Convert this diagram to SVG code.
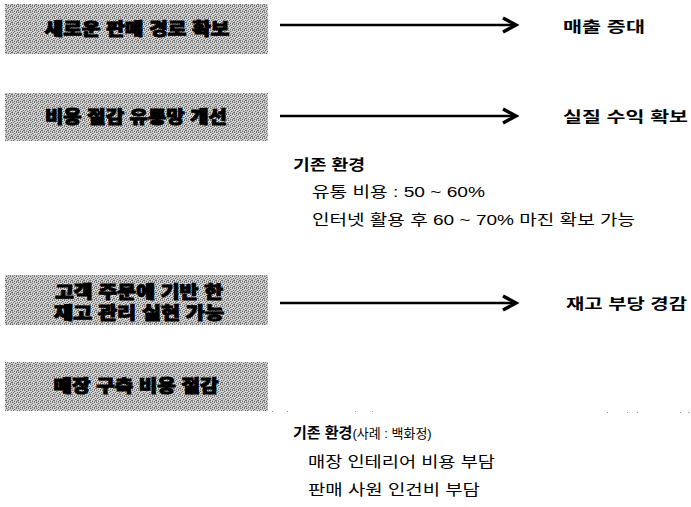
<svg xmlns="http://www.w3.org/2000/svg" width="691" height="507" viewBox="0 0 691 507">
<style>
text{font-family:"Liberation Sans","Noto Sans CJK KR",sans-serif;fill:#000}
.bx{fill:url(#dith)}
.bt{font-size:17px;font-weight:900;text-anchor:middle;stroke:#000;stroke-width:0.9}
.rl{font-size:15px;font-weight:bold}
.hd{font-size:15px;font-weight:bold}
.nt{font-size:15px}
.sm{font-size:13px;font-weight:normal}
.ar{stroke:#000;stroke-width:2.6;fill:none}
.hd2{stroke:#000;stroke-width:3.4;fill:none;stroke-linejoin:miter}
</style>
<defs>
<pattern id="dith" width="6" height="6" patternUnits="userSpaceOnUse">
<rect width="6" height="6" fill="#d4d4d4"/>
<g fill="#6e6e6e">
<rect x="0" y="0" width="1" height="1"/><rect x="4" y="0" width="1" height="1"/>
<rect x="2" y="1" width="1" height="1"/><rect x="5" y="2" width="1" height="1"/>
<rect x="1" y="2" width="1" height="1"/><rect x="3" y="3" width="1" height="1"/>
<rect x="0" y="4" width="1" height="1"/><rect x="5" y="4" width="1" height="1"/>
<rect x="2" y="5" width="1" height="1"/><rect x="4" y="5" width="1" height="1"/>
</g>
<g fill="#a8a8a8">
<rect x="1" y="0" width="1" height="1"/><rect x="3" y="1" width="1" height="1"/>
<rect x="0" y="3" width="1" height="1"/><rect x="4" y="3" width="1" height="1"/>
<rect x="2" y="4" width="1" height="1"/><rect x="0" y="5" width="1" height="1"/>
</g>
</pattern>
</defs>
<rect width="691" height="507" fill="#fff"/>
<g id="node1"><rect class="bx" x="5" y="4" width="263" height="50"/><text class="bt" x="137" y="35" textLength="185" lengthAdjust="spacingAndGlyphs">새로운 판매 경로 확보</text></g>
<g id="node2"><rect class="bx" x="5" y="93" width="263" height="48"/><text class="bt" x="136" y="123" textLength="182" lengthAdjust="spacingAndGlyphs">비용 절감 유통망 개선</text></g>
<g id="node3"><rect class="bx" x="5" y="275" width="263" height="50"/><text class="bt" x="139" y="298" textLength="168" lengthAdjust="spacingAndGlyphs">고객 주문에 기반 한</text><text class="bt" x="139" y="319" textLength="170" lengthAdjust="spacingAndGlyphs">재고 관리 실현 가능</text></g>
<g id="node4"><rect class="bx" x="5" y="362" width="263" height="49"/><text class="bt" x="136" y="392" textLength="165" lengthAdjust="spacingAndGlyphs">매장 구축 비용 절감</text></g>
<g id="specks" fill="#999"><rect x="272" y="411" width="1" height="1"/><rect x="287" y="411" width="1" height="1"/><rect x="355" y="411" width="1" height="1"/><rect x="372" y="411" width="1" height="1"/><rect x="607" y="412" width="1" height="1"/><rect x="627" y="412" width="1" height="1"/><rect x="637" y="412" width="1" height="1"/><rect x="680" y="412" width="1" height="1"/><rect x="688" y="412" width="1" height="1"/></g>
<g id="connectors">
<line class="ar" x1="280" y1="25" x2="514" y2="25"/><polyline class="hd2" points="503,18 516,25 503,32"/>
<line class="ar" x1="280" y1="116" x2="514" y2="116"/><polyline class="hd2" points="503,109 516,116 503,123"/>
<line class="ar" x1="280" y1="303" x2="514" y2="303"/><polyline class="hd2" points="503,296 516,303 503,310"/>
</g>
<g id="result1"><text class="rl" x="563" y="32" textLength="82" lengthAdjust="spacingAndGlyphs">매출 증대</text></g>
<g id="result2"><text class="rl" x="563" y="122" textLength="125" lengthAdjust="spacingAndGlyphs">실질 수익 확보</text></g>
<g id="result3"><text class="rl" x="566" y="309" textLength="121" lengthAdjust="spacingAndGlyphs">재고 부당 경감</text></g>
<g id="note1">
<text class="hd" x="293" y="170" textLength="72" lengthAdjust="spacingAndGlyphs">기존 환경</text>
<text class="nt" x="312" y="197" textLength="173" lengthAdjust="spacingAndGlyphs">유통 비용 : 50 ~ 60%</text>
<text class="nt" x="312" y="225" textLength="323" lengthAdjust="spacingAndGlyphs">인터넷 활용 후 60 ~ 70% 마진 확보 가능</text>
</g>
<g id="note2">
<text class="hd" x="293" y="438">기존 환경<tspan class="sm">(사례 : 백화정)</tspan></text>
<text class="nt" x="308" y="467" textLength="187" lengthAdjust="spacingAndGlyphs">매장 인테리어 비용 부담</text>
<text class="nt" x="308" y="495" textLength="172" lengthAdjust="spacingAndGlyphs">판매 사원 인건비 부담</text>
</g>
</svg>
